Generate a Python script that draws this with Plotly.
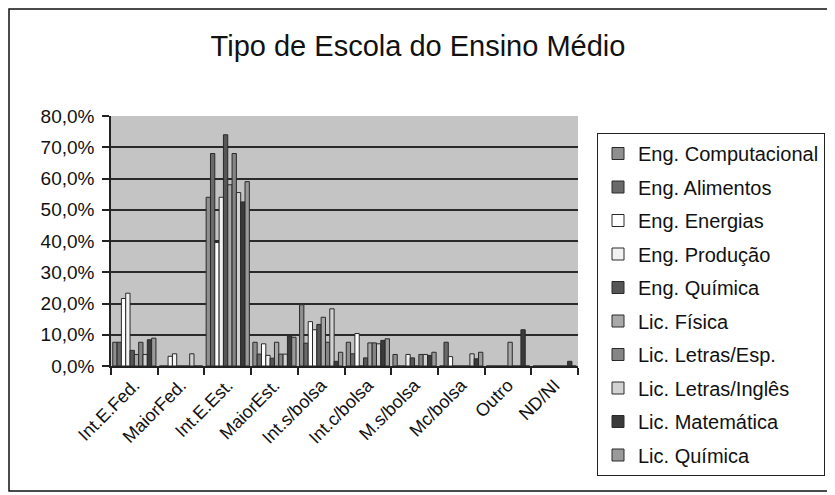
import plotly.graph_objects as go

categories = ["Int.E.Fed.", "MaiorFed.", "Int.E.Est.", "MaiorEst.", "Int.s/bolsa",
              "Int.c/bolsa", "M.s/bolsa", "Mc/bolsa", "Outro", "ND/NI"]

eng_computacional = [7.6, 0, 54.0, 7.6, 19.6, 7.6, 3.7, 0, 0, 0]
eng_alimentos = [7.6, 0, 68.0, 3.8, 7.3, 3.9, 0, 7.6, 0, 0]
eng_energias = [21.6, 3.1, 39.5, 7.1, 14.2, 10.4, 0, 3.0, 0, 0]
eng_producao = [23.3, 3.9, 54.0, 3.4, 11.6, 0, 3.7, 0, 0, 0]
eng_quimica = [5.0, 0, 74.0, 2.5, 13.3, 2.6, 2.6, 0, 0, 0]
lic_fisica = [3.7, 0, 58.0, 7.6, 15.6, 7.4, 0, 0, 7.6, 0]
lic_letras_esp = [7.6, 0, 68.0, 3.8, 7.6, 7.4, 3.7, 0, 0, 0]
lic_letras_ingles = [3.7, 3.9, 55.5, 3.8, 18.3, 7.1, 3.7, 3.9, 0, 0]
lic_matematica = [8.4, 0, 52.5, 9.7, 1.5, 8.2, 3.4, 2.3, 11.6, 1.5]
lic_quimica = [8.9, 0, 59.0, 9.2, 4.4, 8.7, 4.4, 4.4, 0, 0]

series_names = ["Eng. Computacional", "Eng. Alimentos", "Eng. Energias", "Eng. Produção",
                "Eng. Química", "Lic. Física", "Lic. Letras/Esp.", "Lic. Letras/Inglês",
                "Lic. Matemática", "Lic. Química"]
series_values = [eng_computacional, eng_alimentos, eng_energias, eng_producao, eng_quimica,
                 lic_fisica, lic_letras_esp, lic_letras_ingles, lic_matematica, lic_quimica]
series_colors = ["#8f8f8f", "#6a6a6a", "#ffffff", "#f2f2f2", "#565656",
                 "#a9a9a9", "#858585", "#d2d2d2", "#3a3a3a", "#9a9a9a"]

FONT = "Liberation Sans, Arial, sans-serif"

# the page adds an 8px body margin, so the figure is laid out 8px up-left
W, H = 827, 487
L, R, T, B = 103, 257, 108, 129
PW, PH = W - L - R, H - T - B

fig = go.Figure()
for name, vals, col in zip(series_names, series_values, series_colors):
    fig.add_trace(go.Bar(
        x=categories, y=[v / 100 for v in vals], name=name, legendgroup=name,
        marker=dict(color=col, line=dict(color="#2a2a2a", width=1)),
    ))

fig.update_layout(
    width=W, height=H,
    margin=dict(l=L, r=R, t=T, b=B, autoexpand=False),
    paper_bgcolor="white", plot_bgcolor="#c4c4c4",
    separators=",.",
    barmode="group", bargap=0.075, bargroupgap=0,
    font=dict(family=FONT, color="#111111"),
    title=dict(text="Tipo de Escola do Ensino Médio", x=410 / W, xref="container",
               xanchor="center", y=1 - 38 / H, yref="container", yanchor="middle",
               font=dict(family=FONT, size=29, color="#111111")),
    showlegend=True,
    legend=dict(x=(589 - L) / PW, xanchor="left", y=(H - B - 125) / PH, yanchor="top",
                bordercolor="#222222", borderwidth=1, bgcolor="white",
                font=dict(family=FONT, size=20, color="#111111"),
                tracegroupgap=4.5, itemclick=False, maxheight=440),
    xaxis=dict(type="category", tickson="boundaries", ticks="outside", ticklen=7,
               tickcolor="#222222", tickwidth=1.5, tickangle=-45,
               showline=True, linecolor="#222222", linewidth=1.5,
               tickfont=dict(family=FONT, size=18, color="#111111"), showgrid=False),
    yaxis=dict(range=[0, 0.8], dtick=0.1, tickformat=".1%", ticks="outside", ticklen=7,
               tickcolor="#222222", tickwidth=1.5, ticklabelstandoff=4,
               showline=True, linecolor="#222222", linewidth=1.5,
               gridcolor="#2a2a2a", gridwidth=1.5, zeroline=False,
               tickfont=dict(family=FONT, size=19, color="#111111")),
    shapes=[dict(type="rect", xref="paper", yref="paper",
                 x0=(1 - L) / PW, x1=(823 - L) / PW,
                 y0=(H - B - 483) / PH, y1=(H - B - 1) / PH,
                 line=dict(color="#111111", width=1.5), fillcolor="rgba(0,0,0,0)",
                 layer="below")],
)

fig.write_html("out.html")
